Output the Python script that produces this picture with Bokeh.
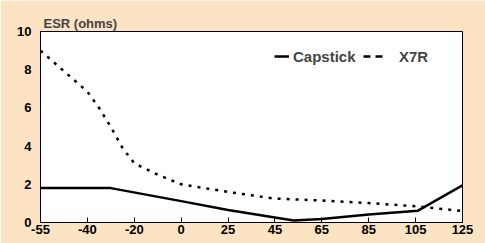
import numpy as np
from bokeh.plotting import figure
from bokeh.models import FixedTicker, Legend, LegendItem, Range1d
from bokeh.embed import file_html
from bokeh.resources import INLINE

tick_temps = [-55, -40, -20, 0, 25, 45, 65, 85, 105, 125]
tick_labels = ["-55", "-40", "-20", "0", "25", "45", "65", "85", "105", "125"]

cap_temp = [-55, -30, 0, 25, 53, 65, 85, 106, 125]
cap_esr = [1.8, 1.8, 1.12, 0.65, 0.1, 0.18, 0.42, 0.62, 1.95]

x7r_temp = [-55, -40, -35, -30, -25, -20, -10, 0, 25, 45, 65, 85, 105, 125]
x7r_esr = [9.0, 6.85, 6.0, 5.0, 3.9, 3.1, 2.5, 2.0, 1.6, 1.25, 1.15, 1.02, 0.85, 0.6]

pos = list(range(len(tick_temps)))
cap_x = np.interp(cap_temp, tick_temps, pos)
x7r_x = np.interp(x7r_temp, tick_temps, pos)

BG = "#FCE3C3"
FONT = "Liberation Sans"

p = figure(width=485, height=243, output_backend="svg", toolbar_location=None,
           x_range=Range1d(0, 9), y_range=Range1d(0, 10),
           min_border_left=40, min_border_right=23, min_border_top=31, min_border_bottom=21,
           background_fill_color="white", border_fill_color=BG,
           title="ESR (ohms)")
p.title.text_font = FONT
p.title.text_font_size = "13px"
p.title.text_font_style = "bold"
p.title.offset = 3
p.title.standoff = 1
p.outline_line_color = "black"
p.outline_line_width = 1
p.grid.visible = False

p.xaxis.ticker = FixedTicker(ticks=pos)
p.xaxis.major_label_overrides = {i: t for i, t in zip(pos, tick_labels)}
p.xaxis.major_tick_in = 5
p.xaxis.major_tick_out = 0
p.xaxis.minor_tick_line_color = None
p.xaxis.axis_line_color = "black"
p.yaxis.ticker = FixedTicker(ticks=[0, 2, 4, 6, 8, 10])
p.yaxis.major_tick_line_color = None
p.yaxis.minor_tick_line_color = None
p.yaxis.axis_line_color = "black"
for ax in (p.xaxis, p.yaxis):
    ax.major_label_text_font = FONT
    ax.major_label_text_font_size = "13px"
    ax.major_label_text_font_style = "bold"
    ax.major_label_text_color = "black"
p.xaxis.major_label_standoff = 2
p.yaxis.major_label_standoff = 3

r_cap = p.line(cap_x, cap_esr, line_color="black", line_width=2.5)
r_x7r = p.line(x7r_x, x7r_esr, line_color="black", line_width=2.5, line_dash="3 6")
r_x7r_key = p.line([np.nan], [np.nan], line_color="black", line_width=2.5, line_dash="7 5")

common = dict(orientation="horizontal", background_fill_alpha=0, border_line_alpha=0,
              label_text_font=FONT, label_text_font_size="15px",
              label_text_font_style="bold", padding=0, margin=0,
              label_height=20, glyph_height=20)
leg1 = Legend(items=[LegendItem(label="Capstick", renderers=[r_cap])],
              location=(234, 156), glyph_width=15, label_standoff=4, **common)
leg2 = Legend(items=[LegendItem(label="X7R", renderers=[r_x7r_key])],
              location=(323, 156), glyph_width=20, label_standoff=16, **common)
p.add_layout(leg1)
p.add_layout(leg2)

html = file_html(p, INLINE)
html = html.replace("<body>", '<body style="margin:0;background:%s">' % BG, 1)
open("out.html", "w").write(html)
